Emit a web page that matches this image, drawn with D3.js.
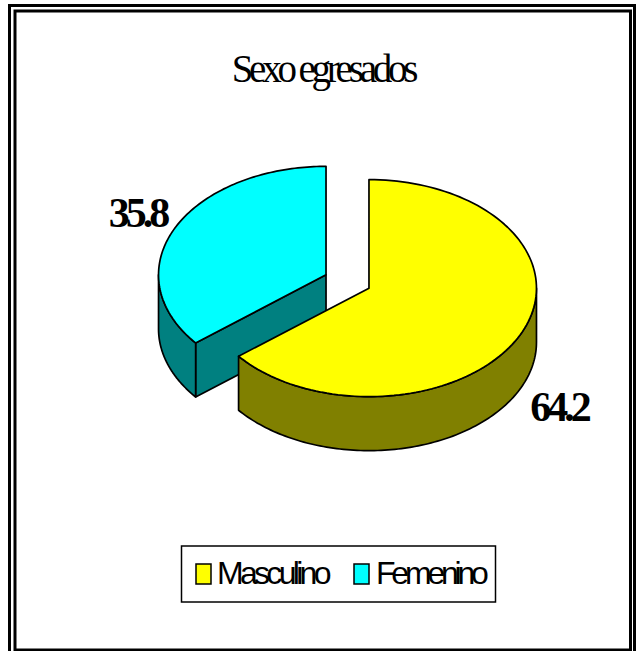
<!DOCTYPE html>
<html>
<head>
<meta charset="utf-8">
<script src="https://cdn.jsdelivr.net/npm/d3@7"></script>
<style>
html, body { margin: 0; padding: 0; background: #fff; }
svg { display: block; }
</style>
</head>
<body>
<svg width="636" height="651"></svg>
<script>
var categories = ["Masculino", "Femenino"],
    values = [64.2, 35.8],
    topColors = ["#ffff00", "#00ffff"],
    sideColors = ["#808000", "#008080"];

var svg = d3.select("svg"),
    CX = 347.5, CY = 281.5,
    RX = 167.5, RY = 108.5,
    DEPTH = 54,
    EXPLODE = 23.8;

// outer double frame
svg.append("rect").attr("x", 9.5).attr("y", 5.5).attr("width", 625).attr("height", 650)
    .attr("fill", "none").attr("stroke", "#000").attr("stroke-width", 3);
svg.append("rect").attr("x", 15).attr("y", 11).attr("width", 615.5).attr("height", 639)
    .attr("fill", "none").attr("stroke", "#000").attr("stroke-width", 3);

svg.append("text").attr("x", 323).attr("y", 82)
    .attr("text-anchor", "middle")
    .attr("font-family", "Liberation Serif")
    .attr("font-size", 39).attr("letter-spacing", -4.2)
    .text("Sexo egresados");

var pie = d3.pie().sort(null).value(function(d) { return d; }),
    arcs = pie(values);

var line = d3.line();

function ellX(c, a) { return c.x + RX * Math.sin(a); }
function ellY(c, a) { return c.y - RY * Math.cos(a); }

function center(d) {
  var mid = (d.startAngle + d.endAngle) / 2;
  return {
    x: CX + EXPLODE * Math.sin(mid),
    y: CY - EXPLODE * (RY / RX) * Math.cos(mid)
  };
}

function sample(a0, a1) {
  return d3.range(0, 121).map(function(i) { return a0 + (a1 - a0) * i / 120; });
}

function drawSlice(d, i) {
  var c = center(d),
      g = svg.append("g").attr("stroke", "#000").attr("stroke-width", 1.7).attr("stroke-linejoin", "round");

  // side walls: the cut face from apex to the near rim, then the visible rim
  function wall(pts) {
    g.append("path").attr("d", line(pts) + "Z").attr("fill", sideColors[i]);
  }
  var start = [ellX(c, d.startAngle), ellY(c, d.startAngle)];

  if (i == 1) {
    // femenino shows its cut edge along the start angle
    wall([[c.x, c.y], start, [start[0], start[1] + DEPTH], [c.x, c.y + DEPTH]]);
    var rimF = sample(d.startAngle, 1.5 * Math.PI);
    wall(rimF.map(function(a) { return [ellX(c, a), ellY(c, a)]; })
      .concat(rimF.slice().reverse().map(function(a) { return [ellX(c, a), ellY(c, a) + DEPTH]; })));
  } else {
    var rimM = sample(0.5 * Math.PI, d.endAngle);
    wall(rimM.map(function(a) { return [ellX(c, a), ellY(c, a)]; })
      .concat(rimM.slice().reverse().map(function(a) { return [ellX(c, a), ellY(c, a) + DEPTH]; })));
  }

  var topPts = [[c.x, c.y]].concat(sample(d.startAngle, d.endAngle).map(function(a) {
    return [ellX(c, a), ellY(c, a)];
  }));
  g.append("path").attr("d", line(topPts) + "Z").attr("fill", topColors[i]);
}

// back slice first
drawSlice(arcs[1], 1);
drawSlice(arcs[0], 0);

// value labels
var labelPos = [[559, 421], [137.5, 227]];
values.forEach(function(v, i) {
  svg.append("text").attr("x", labelPos[i][0]).attr("y", labelPos[i][1])
      .attr("text-anchor", "middle")
      .attr("font-family", "Liberation Serif").attr("font-weight", "bold")
      .attr("font-size", 42).attr("letter-spacing", -4)
      .text(v);
});

// legend
svg.append("rect").attr("x", 181.5).attr("y", 546).attr("width", 314).attr("height", 56)
    .attr("fill", "#fff").attr("stroke", "#000").attr("stroke-width", 1.5);
var keyX = [196, 354], textX = [217, 376], textSpacing = [-3.7, -4.2];
categories.forEach(function(name, i) {
  svg.append("rect").attr("x", keyX[i]).attr("y", 564).attr("width", 15).attr("height", 20)
      .attr("fill", topColors[i]).attr("stroke", "#000").attr("stroke-width", 1.5);
  svg.append("text").attr("x", textX[i]).attr("y", 584)
      .attr("font-family", "Liberation Sans")
      .attr("font-size", 32).attr("letter-spacing", textSpacing[i])
      .text(name);
});
</script>
</body>
</html>
